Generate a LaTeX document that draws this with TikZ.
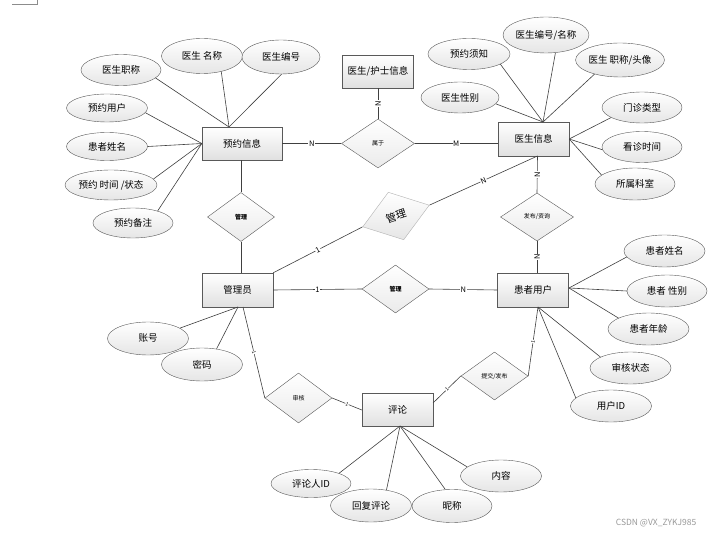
\documentclass[tikz,border=0pt]{standalone}
\usepackage{fontspec}
\setmainfont{Noto Sans CJK SC}
\usetikzlibrary{shapes.geometric}
\begin{document}
\begin{tikzpicture}[x=1pt,y=-1pt,
 ent/.style={draw=black!65, rectangle, top color=white, bottom color=black!12, minimum width=71pt, minimum height=33pt, inner sep=0pt, font=\fontsize{9.5}{11}\selectfont},
 attr/.style={draw=black!65, ellipse, top color=white, bottom color=black!10, minimum width=81pt, minimum height=31pt, inner sep=0pt, font=\fontsize{9.5}{11}\selectfont},
 rel/.style={draw=black!65, diamond, top color=white, bottom color=black!8, minimum width=67pt, minimum height=48pt, inner sep=0pt, font=\fontsize{6}{7}\selectfont},
 ln/.style={draw=black!75, line width=0.6pt},
 lab/.style={fill=white, inner sep=0.6pt, font=\fontsize{7.5}{8}\selectfont},
 tick/.style={fill=white, inner sep=0.3pt, font=\fontsize{5}{5}\selectfont, sloped}
]
\fill[white] (0,0) rectangle (728,537);
\useasboundingbox (0,0) rectangle (728,537);
\draw[black!45] (12,4) -- (37,4) -- (37,0);

% entities
\node[ent, minimum width=80pt] (yy) at (242,143.5) {预约信息};
\node[ent] (hs) at (378,71.5) {医生/护士信息};
\node[ent, minimum height=34pt] (ys) at (533.5,139) {医生信息};
\node[ent, minimum height=34pt] (gly) at (237.5,290) {管理员};
\node[ent, minimum height=34pt] (hz) at (533,290) {患者用户};
\node[ent] (pl) at (397.5,409.5) {评论};

% relationships
\node[rel, minimum width=73pt, minimum height=49pt] (sy) at (378,143.5) {属于};
\node[rel, minimum height=49pt, font=\fontsize{6}{7}\selectfont\bfseries] (glL) at (241,217) {管理};
\node[rel, font=\fontsize{6}{7}\selectfont\bfseries] (glM) at (395.5,289) {管理};
\node[rel, minimum width=73pt] (fb) at (537,217) {发布/资询};
\node[rel] (tj) at (494.5,376) {提交/发布};
\node[rel, minimum height=50pt] (sh) at (298.5,398) {审核};
\node[draw=black!30, diamond, top color=white, bottom color=black!10, minimum width=70pt, minimum height=50pt, inner sep=0pt, rotate=18, font=\fontsize{10.5}{12}\selectfont] (glR) at (396,216) {管理};

% attributes of 预约信息
\node[attr, minimum width=80pt] (a1) at (121,70) {医生职称};
\node[attr, minimum height=35pt] (a2) at (202,56) {医生 名称};
\node[attr, minimum width=78pt, minimum height=34pt] (a3) at (281,57) {医生编号};
\node[attr, minimum height=28pt] (a4) at (107,108) {预约用户};
\node[attr, minimum height=28pt] (a5) at (107,146.5) {患者姓名};
\node[attr, minimum width=82pt, minimum height=30pt] (a6) at (111,185) {预约 时间 /状态};
\node[attr, minimum width=80pt, minimum height=30pt] (a7) at (133,223) {预约备注};

% attributes of 医生信息
\node[attr, minimum width=82pt] (b1) at (469,54) {预约须知};
\node[attr, minimum width=82pt, minimum height=36pt] (b2) at (546,35) {医生编号/名称};
\node[attr, minimum width=82pt, minimum height=34pt] (b3) at (620,60) {医生 职称/头像};
\node[attr, minimum width=78pt] (b4) at (460,97.5) {医生性别};
\node[attr, minimum width=80pt] (b5) at (642,107.5) {门诊类型};
\node[attr, minimum width=80pt] (b6) at (642,147) {看诊时间};
\node[attr, minimum width=80pt, minimum height=32pt] (b7) at (635,184) {所属科室};

% attributes of 患者用户
\node[attr, minimum height=32pt] (c1) at (664.5,251) {患者姓名};
\node[attr, minimum width=80pt, minimum height=32pt] (c2) at (667,291) {患者 性别};
\node[attr, minimum height=32pt] (c3) at (648.5,329) {患者年龄};
\node[attr, minimum height=32pt] (c4) at (630.5,368) {审核状态};
\node[attr, minimum height=32pt] (c5) at (611,406) {用户ID};

% attributes of 管理员
\node[attr, minimum height=33pt] (d1) at (148,338.5) {账号};
\node[attr, minimum height=33pt] (d2) at (202,364.5) {密码};

% attributes of 评论
\node[attr, minimum width=80pt, minimum height=28pt] (e1) at (311,483.5) {评论人ID};
\node[attr, minimum height=33pt] (e2) at (371,505.5) {回复评论};
\node[attr, minimum width=80pt, minimum height=33pt] (e3) at (452,506) {昵称};
\node[attr, minimum height=32pt] (e4) at (501,476) {内容};

% convergence points
\coordinate (yyT) at (229,127);
\coordinate (ysT) at (543,122);
\coordinate (ysB) at (537.5,156);
\coordinate (hzB) at (538,307);
\coordinate (glyB) at (238,307);
\coordinate (glyB2) at (243,307);
\coordinate (plB) at (400,426);
\coordinate (plR) at (433,403);
\coordinate (hzR) at (569,288);

% relationship connectors
\draw[ln] (yy.east) -- node[lab]{N} (sy.west);
\draw[ln] (sy.east) -- node[lab]{M} (sy.east -| ys.west);
\draw[ln] (hs.south) -- node[lab, rotate=90]{N} (sy.north);
\draw[ln] (ysB) -- node[lab, rotate=90]{N} (fb.north);
\draw[ln] (fb.south) -- node[lab, rotate=90]{N} (fb.south |- hz.north);
\draw[ln] (yy.south -| glL.north) -- (glL.north);
\draw[ln] (glL.south) -- (glL.south |- gly.north);
\draw[ln] (gly.east) -- node[lab]{1} (glM.west);
\draw[ln] (glM.east) -- node[lab]{N} (hz.west);
\draw[ln] (gly.north east) -- node[lab, sloped]{1} (glR.west);
\draw[ln] (glR.east) -- node[lab, sloped]{N} (ysB);
\draw[ln] (glyB2) -- node[tick]{1} (sh.west);
\draw[ln] (sh.east) -- node[tick]{1} (pl.west |- 0,410);
\draw[ln] (plR) -- node[tick]{1} (tj.west);
\draw[ln] (tj.east) -- node[tick]{1} (hzB);

% attribute connectors
\draw[ln] (yyT) -- (a1.-13);
\draw[ln] (yyT) -- (a2.-39);
\draw[ln] (yyT) -- (a3.-88);
\draw[ln] (yy.west) -- (a4.-7);
\draw[ln] (yy.west) -- (a5.0);
\draw[ln] (yy.west) -- (a6.8);
\draw[ln] (yy.west) -- (a7.26);

\draw[ln] (ysT) -- (b1.-18);
\draw[ln] (ysT) -- (b2.-62);
\draw[ln] (ysT) -- (b3.-151);
\draw[ln] (ysT) -- (b4.-10);
\draw[ln] (ys.east) -- (b5.198);
\draw[ln] (ys.east) -- (b6.184);
\draw[ln] (ys.east) -- (b7.165);

\draw[ln] (hzR) -- (c1.189);
\draw[ln] (hzR) -- (c2.180);
\draw[ln] (hzR) -- (c3.160);
\draw[ln] (hzB) -- (c4.160);
\draw[ln] (hzB) -- (c5.167);

\draw[ln] (glyB) -- (d1.18);
\draw[ln] (glyB) -- (d2.47);

\draw[ln] (plB) -- (e1.20);
\draw[ln] (plB) -- (e2.45);
\draw[ln] (plB) -- (e3.112);
\draw[ln] (plB) -- (e4.165);

\node[text=black!40, font=\fontsize{8.5}{10}\selectfont, inner sep=0pt] (wm) at (656,523) {CSDN @VX\_ZYKJ985};
\end{tikzpicture}
\end{document}
